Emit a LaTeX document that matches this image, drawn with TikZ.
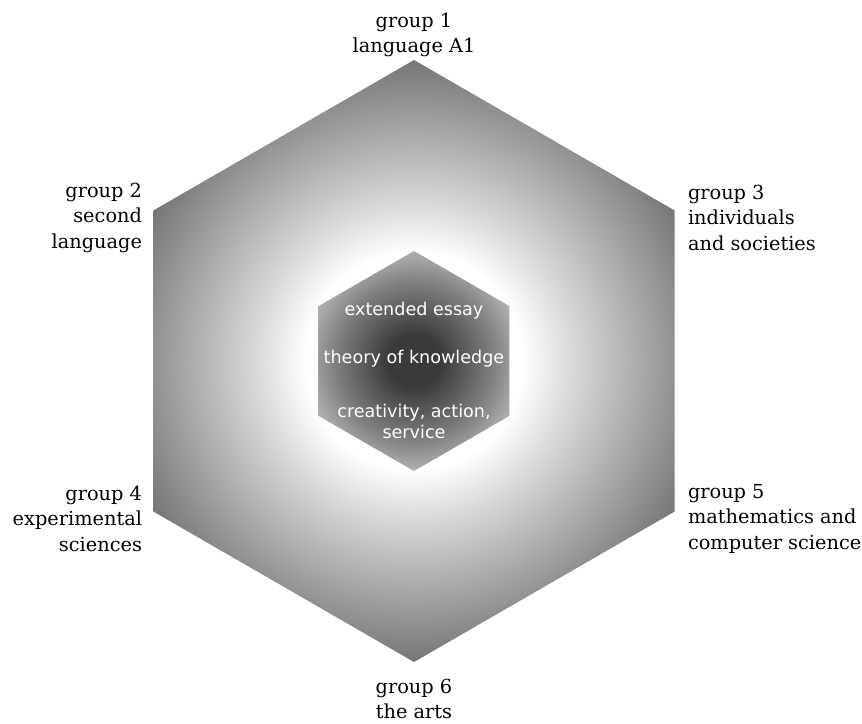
\documentclass[tikz,border=0pt]{standalone}
\usepackage{fontspec}
\setmainfont{DejaVu Serif}
\newfontfamily\hexsans{DejaVu Sans}
\usepackage{tikz}
\usetikzlibrary{calc}
\definecolor{mygray1}{RGB}{218, 218, 218}
\definecolor{mygray2}{RGB}{168, 168, 168}
\definecolor{mygray3}{RGB}{118, 118, 118}
\definecolor{mydark1}{RGB}{58, 58, 58}
\definecolor{mydark2}{RGB}{178, 178, 178}
\pgfdeclareradialshading{outerglow}{\pgfpoint{0cm}{0cm}}{color(0bp)=(white); color(9bp)=(white); color(13bp)=(mygray1); color(19bp)=(mygray2); color(25bp)=(mygray3); color(50bp)=(mygray3)}
\pgfdeclareradialshading{innerglow}{\pgfpoint{0cm}{0cm}}{color(0bp)=(mydark1); color(6bp)=(mydark1); color(18bp)=(gray); color(25bp)=(mydark2); color(50bp)=(mydark2)}
\tikzset{group/.style={font=\fontsize{11}{14.5}\selectfont, inner sep=0pt},
  core/.style={font=\hexsans\fontsize{10}{12}\selectfont, text=white, align=center, inner sep=0pt}}

\begin{document}
\begin{tikzpicture}
\useasboundingbox (-8.28, -7.24) rectangle (8.96, 7.22);
\foreach \i in {1,...,6} {
  \coordinate (o\i) at (30+60*\i : 6.02);
  \coordinate (c\i) at (30+60*\i : 2.2);
}
\begin{scope}
\clip (o1) -- (o2) -- (o3) -- (o4) -- (o5) -- (o6) -- cycle;
\shade[shading=outerglow] (0, 0) circle (6.02);
\end{scope}
\begin{scope}
\clip (c1) -- (c2) -- (c3) -- (c4) -- (c5) -- (c6) -- cycle;
\shade[shading=innerglow] (0, 0) circle (2.2);
\end{scope}
\node[group, anchor=south, align=center] (g1) at ($(o1)+(0, 0.05)$) {group 1\\language A1};
\node[group, anchor=east, align=right] (g2) at ($(o2)+(-0.22, -0.14)$) {group 2\\second\\language};
\node[group, anchor=west, align=left] (g3) at ($(o6)+(0.26, -0.14)$) {group 3\\individuals\\and societies};
\node[group, anchor=east, align=right] (g4) at ($(o3)+(-0.22, -0.14)$) {group 4\\experimental\\sciences};
\node[group, anchor=west, align=left] (g5) at ($(o5)+(0.26, -0.14)$) {group 5\\mathematics and\\computer science};
\node[group, anchor=north, align=center] (g6) at ($(o4)+(0, -0.33)$) {group 6\\the arts};
\node[core] (essay) at (0, 1.0) {extended essay};
\node[core] (tok) at (0, 0.04) {theory of knowledge};
\node[core] (cas) at (0, -1.21) {creativity, action,\\service};
\end{tikzpicture}
\end{document}
